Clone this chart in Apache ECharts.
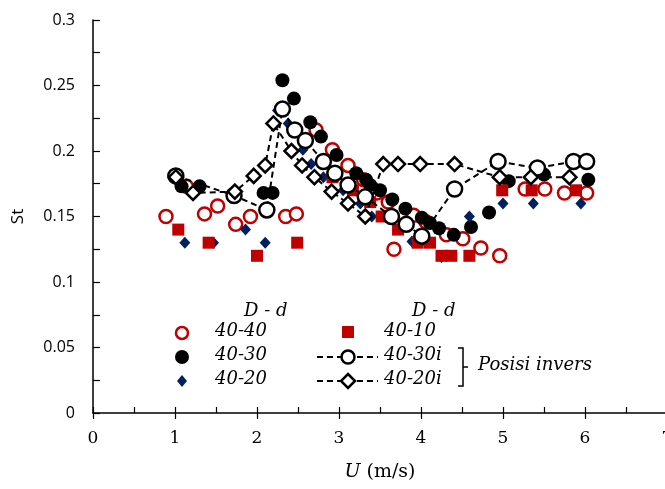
<!DOCTYPE html>
<html>
<head>
<meta charset="utf-8">
<script src="https://cdn.jsdelivr.net/npm/echarts@6/dist/echarts.min.js"></script>
<style>
  html,body{margin:0;padding:0;background:#fff;}
  #chart{width:665px;height:489px;}
</style>
</head>
<body>
<div id="chart"></div>
<script>
// values, [U (m/s), St]
const s4040 = [[0.89,0.150],[1.14,0.173],[1.36,0.152],[1.52,0.158],[1.74,0.144],[1.92,0.150],[2.35,0.150],[2.48,0.152],
  [2.72,0.216],[2.92,0.201],[3.11,0.189],[3.30,0.178],[3.46,0.168],[3.60,0.161],[3.67,0.125],[3.91,0.151],[4.06,0.146],
  [4.31,0.136],[4.51,0.133],[4.73,0.126],[4.96,0.120],[5.27,0.171],[5.51,0.171],[5.75,0.168],[6.02,0.168]];
const s4030 = [[1.08,0.173],[1.30,0.173],[1.71,0.166],[2.08,0.168],[2.19,0.168],[2.31,0.254],[2.45,0.240],[2.65,0.222],
  [2.78,0.211],[2.97,0.197],[3.21,0.183],[3.33,0.178],[3.38,0.174],[3.50,0.170],[3.65,0.163],[3.81,0.156],[4.01,0.149],
  [4.11,0.145],[4.22,0.141],[4.40,0.136],[4.61,0.142],[4.83,0.153],[5.07,0.177],[5.50,0.182],[6.04,0.178]];
const s4020 = [[1.12,0.130],[1.47,0.130],[1.86,0.140],[2.10,0.130],[2.25,0.231],[2.38,0.221],[2.56,0.201],[2.66,0.190],
  [2.81,0.180],[3.05,0.170],[3.26,0.160],[3.40,0.150],[3.62,0.150],[3.89,0.131],[4.05,0.131],[4.25,0.119],[4.59,0.150],
  [5.00,0.160],[5.37,0.160],[5.95,0.160]];
const s4010 = [[1.04,0.140],[1.41,0.130],[2.00,0.120],[2.49,0.130],[2.92,0.180],[3.17,0.170],[3.38,0.161],[3.52,0.150],
  [3.72,0.140],[3.96,0.130],[4.11,0.130],[4.25,0.120],[4.37,0.120],[4.59,0.120],[4.99,0.170],[5.35,0.170],[5.89,0.170]];
const s4030i = [[1.01,0.181],[1.72,0.166],[2.12,0.155],[2.31,0.232],[2.46,0.216],[2.59,0.208],[2.81,0.192],[2.95,0.183],
  [3.11,0.174],[3.32,0.165],[3.64,0.150],[3.82,0.144],[4.01,0.135],[4.41,0.171],[4.94,0.192],[5.42,0.187],[5.86,0.192],[6.02,0.192]];
const s4020i = [[1.01,0.180],[1.22,0.168],[1.73,0.169],[1.96,0.181],[2.10,0.189],[2.20,0.221],[2.42,0.200],[2.55,0.189],
  [2.70,0.180],[2.91,0.169],[3.11,0.160],[3.32,0.150],[3.54,0.190],[3.72,0.190],[3.99,0.190],[4.41,0.190],[4.96,0.180],
  [5.34,0.180],[5.81,0.180]];

const RED = '#C00000';
const NAVY = '#002060';
const serif = 'DejaVu Serif';
const sans = 'Open Sans';

const chart = echarts.init(document.getElementById('chart'));

const legendText = (x, y, txt, align) => ({
  type: 'text', left: x, top: y - 11,
  style: {text: txt, font: 'italic 18px "' + serif + '"', fill: '#000', textAlign: align || 'left'}
});

const option = {
  animation: false,
  grid: {left: 93, right: -2, top: 20, bottom: 76, outerBoundsMode: 'none', containLabel: false},
  xAxis: [{
    type: 'value', min: 0, max: 7, interval: 1,
    axisLine: {lineStyle: {color: '#000', width: 1.5}},
    axisTick: {inside: true, length: 6, lineStyle: {color: '#000', width: 1.2}},
    minorTick: {show: true, splitNumber: 2, length: 6, lineStyle: {color: '#000', width: 1.2}},
    splitLine: {show: false},
    axisLabel: {color: '#000', fontFamily: serif, fontSize: 17, margin: 17},
    name: '{i|U} (m/s)', nameLocation: 'middle', nameGap: 50,
    nameTextStyle: {color: '#000', fontFamily: serif, fontSize: 19,
      rich: {i: {fontStyle: 'italic', fontFamily: serif, fontSize: 19}}}
  }, {
    type: 'value', min: 0, max: 7, interval: 1, position: 'bottom',
    axisLine: {show: false},
    axisTick: {inside: false, length: 6, lineStyle: {color: '#000', width: 1.2}},
    axisLabel: {show: false}, splitLine: {show: false}
  }],
  yAxis: {
    type: 'value', min: 0, max: 0.3, interval: 0.05,
    axisLine: {show: true, lineStyle: {color: '#000', width: 1.5}},
    axisTick: {show: true, inside: true, length: 7, lineStyle: {color: '#000', width: 1.2}},
    minorTick: {show: true, splitNumber: 2, length: 7, lineStyle: {color: '#000', width: 1.2}},
    splitLine: {show: false},
    axisLabel: {color: '#000', fontFamily: sans, fontSize: 16, margin: 18},
    name: 'St', nameLocation: 'middle', nameGap: 66,
    nameTextStyle: {color: '#000', fontFamily: sans, fontSize: 17}
  },
  series: [
    {name: '40-40', type: 'scatter', data: s4040, symbol: 'circle', symbolSize: 13,
      itemStyle: {color: '#fff', borderColor: RED, borderWidth: 2.5, opacity: 1}},
    {name: '40-30', type: 'scatter', data: s4030, symbol: 'circle', symbolSize: 14,
      itemStyle: {color: '#000', opacity: 1}},
    {name: '40-20', type: 'scatter', data: s4020, symbol: 'diamond', symbolSize: [11, 12],
      itemStyle: {color: NAVY, opacity: 1}},
    {name: '40-10', type: 'scatter', data: s4010, symbol: 'rect', symbolSize: 12,
      itemStyle: {color: RED, opacity: 1}},
    {name: '40-30i', type: 'line', data: s4030i, symbol: 'circle', symbolSize: 15,
      lineStyle: {color: '#000', width: 2, type: [6, 4]},
      itemStyle: {color: '#fff', borderColor: '#000', borderWidth: 2.5}},
    {name: '40-20i', type: 'line', data: s4020i, symbol: 'diamond', symbolSize: 14,
      lineStyle: {color: '#000', width: 2, type: [6, 4]},
      itemStyle: {color: '#fff', borderColor: '#000', borderWidth: 2.5}}
  ],
  graphic: [
    legendText(244, 313, 'D - d', 'center'),
    legendText(412, 313, 'D - d', 'center'),
    {type: 'circle', shape: {cx: 182, cy: 333, r: 6}, style: {fill: '#fff', stroke: RED, lineWidth: 2.5}},
    legendText(215, 333, '40-40'),
    {type: 'circle', shape: {cx: 182, cy: 357, r: 7}, style: {fill: '#000'}},
    legendText(215, 357, '40-30'),
    {type: 'polygon', shape: {points: [[182, 375], [187, 381], [182, 387], [177, 381]]}, style: {fill: NAVY}},
    legendText(215, 381, '40-20'),
    {type: 'rect', shape: {x: 342, y: 326, width: 12, height: 12}, style: {fill: RED}},
    legendText(384, 333, '40-10'),
    {type: 'line', shape: {x1: 317, y1: 357, x2: 378, y2: 357}, style: {stroke: '#000', lineWidth: 2, lineDash: [6, 4]}},
    {type: 'circle', shape: {cx: 348, cy: 357, r: 6.5}, style: {fill: '#fff', stroke: '#000', lineWidth: 2.5}},
    legendText(384, 357, '40-30i'),
    {type: 'line', shape: {x1: 317, y1: 381, x2: 378, y2: 381}, style: {stroke: '#000', lineWidth: 2, lineDash: [6, 4]}},
    {type: 'polygon', shape: {points: [[348, 374], [355, 381], [348, 388], [341, 381]]}, style: {fill: '#fff', stroke: '#000', lineWidth: 2.5}},
    legendText(384, 381, '40-20i'),
    {type: 'polyline', shape: {points: [[458, 348], [463, 348], [463, 386], [458, 386]]}, style: {stroke: '#000', lineWidth: 1.5, fill: null}},
    {type: 'line', shape: {x1: 463, y1: 367, x2: 468, y2: 367}, style: {stroke: '#000', lineWidth: 1.5}},
    legendText(478, 367, 'Posisi invers')
  ]
};

chart.setOption(option);
</script>
</body>
</html>
